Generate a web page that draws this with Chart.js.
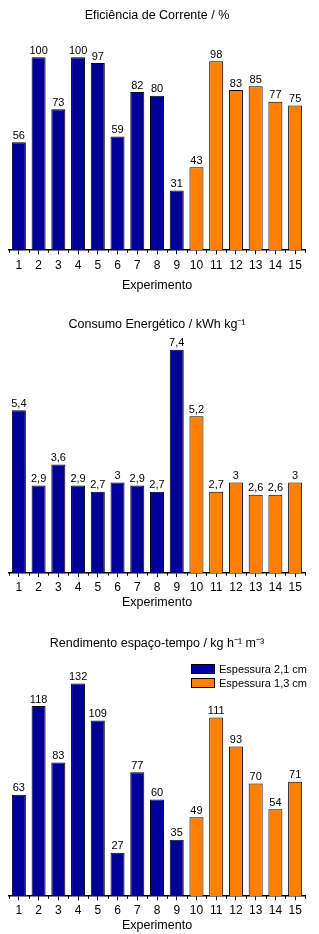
<!DOCTYPE html>
<html>
<head>
<meta charset="utf-8">
<script src="https://cdn.jsdelivr.net/npm/chart.js@4/dist/chart.umd.min.js"></script>
<style>
  body { margin: 0; background: #fff; width: 319px; height: 934px; position: relative; overflow: hidden; }
  .box { position: absolute; left: 0; width: 319px; }
</style>
</head>
<body>
<div class="box" style="top:0;height:300px"><canvas id="chartEficiencia"></canvas></div>
<div class="box" style="top:300px;height:320px"><canvas id="chartConsumo"></canvas></div>
<div class="box" style="top:620px;height:314px"><canvas id="chartRendimento"></canvas></div>
<script>
const experimentos = ['1', '2', '3', '4', '5', '6', '7', '8', '9', '10', '11', '12', '13', '14', '15'];

// experimentos 1-9: espessura 2,1 cm ; 10-15: espessura 1,3 cm
const eficiencia21 = [56, 100, 73, 100, 97, 59, 82, 80, 31];
const eficiencia13 = [43, 98, 83, 85, 77, 75];

const consumo21 = [5.4, 2.9, 3.6, 2.9, 2.7, 3, 2.9, 2.7, 7.4];
const consumo13 = [5.2, 2.7, 3, 2.6, 2.6, 3];

const rendimento21 = [63, 118, 83, 132, 109, 27, 77, 60, 35];
const rendimento13 = [49, 111, 93, 70, 54, 71];

const serieNomes = ['Espessura 2,1 cm', 'Espessura 1,3 cm'];
const corAzul = '#000099';
const corLaranja = '#ff8000';
const fonte = '"Liberation Sans", Arial, sans-serif';

// value labels above each bar
const valueLabels = {
  id: 'valueLabels',
  afterDatasetsDraw(chart) {
    const ctx = chart.ctx;
    ctx.save();
    ctx.font = '11px ' + fonte;
    ctx.fillStyle = '#000';
    ctx.textAlign = 'center';
    ctx.textBaseline = 'bottom';
    chart.data.datasets.forEach((ds, i) => {
      chart.getDatasetMeta(i).data.forEach((bar, j) => {
        const v = ds.data[j];
        if (v == null) return;
        ctx.fillText(String(v).replace('.', ','), bar.x, bar.y - 1);
      });
    });
    ctx.restore();
  }
};

// small ticks between categories
const minorTicks = {
  id: 'minorTicks',
  afterDraw(chart) {
    const x = chart.scales.x;
    const half = (x.getPixelForValue(1) - x.getPixelForValue(0)) / 2;
    const ctx = chart.ctx;
    ctx.save();
    ctx.strokeStyle = '#000';
    ctx.lineWidth = 1;
    ctx.beginPath();
    for (let i = 0; i <= experimentos.length; i++) {
      const px = Math.round(x.getPixelForValue(0) - half + i * 2 * half) + 0.5;
      ctx.moveTo(px, x.top);
      ctx.lineTo(px, x.top + 2.5);
    }
    ctx.stroke();
    ctx.restore();
  }
};

// legend drawn inside the plot area, top right
const innerLegend = {
  id: 'innerLegend',
  afterDraw(chart, args, opts) {
    if (!opts.show) return;
    const ctx = chart.ctx;
    ctx.save();
    ctx.font = '11px ' + fonte;
    ctx.textBaseline = 'middle';
    chart.data.datasets.forEach((ds, i) => {
      const y = opts.top + i * 14;
      ctx.fillStyle = ds.backgroundColor;
      ctx.fillRect(opts.left, y, 24, 10);
      ctx.strokeStyle = '#000';
      ctx.lineWidth = 1;
      ctx.strokeRect(opts.left + 0.5, y + 0.5, 23, 9);
      ctx.fillStyle = '#000';
      ctx.fillText(ds.label, opts.left + 28, y + 5.5);
    });
    ctx.restore();
  }
};

function fazerGrafico(id, titulo, serie21, serie13, yMax, pad, legenda) {
  const vazio21 = Array(serie13.length).fill(null);
  const vazio13 = Array(serie21.length).fill(null);
  return new Chart(document.getElementById(id), {
    type: 'bar',
    data: {
      labels: experimentos,
      datasets: [
        {
          label: serieNomes[0],
          data: serie21.concat(vazio21),
          backgroundColor: corAzul,
          borderColor: '#000',
          borderWidth: 1
        },
        {
          label: serieNomes[1],
          data: vazio13.concat(serie13),
          backgroundColor: corLaranja,
          borderColor: '#000',
          borderWidth: 1
        }
      ]
    },
    options: {
      responsive: true,
      maintainAspectRatio: false,
      animation: false,
      layout: { padding: { left: 9, right: 14, top: 0, bottom: pad.bottom } },
      datasets: { bar: { grouped: false, barPercentage: 0.71, categoryPercentage: 1 } },
      plugins: {
        legend: { display: false },
        tooltip: { enabled: false },
        title: {
          display: true,
          text: titulo,
          color: '#000',
          font: { family: fonte, size: 12.5, weight: 'normal' },
          padding: { top: pad.top, bottom: pad.title }
        },
        innerLegend: legenda || { show: false }
      },
      scales: {
        x: {
          grid: { display: true, drawOnChartArea: false, offset: false, tickLength: 4, color: '#000' },
          border: { display: true, color: '#000', width: 1.5 },
          ticks: { color: '#000', padding: pad.ticks, font: { family: fonte, size: 12 } },
          title: {
            display: true,
            text: 'Experimento',
            color: '#000',
            font: { family: fonte, size: 12.5, lineHeight: 1 },
            padding: { top: pad.xTitle, bottom: 0 }
          }
        },
        y: { display: false, min: 0, max: yMax }
      }
    },
    plugins: [valueLabels, minorTicks, innerLegend]
  });
}

fazerGrafico('chartEficiencia', 'Eficiência de Corrente / %', eficiencia21, eficiencia13, 104.5,
  { top: 8, title: 25.6, bottom: 7.9, ticks: 4.5, xTitle: 2 });
fazerGrafico('chartConsumo', 'Consumo Energético / kWh kg⁻¹', consumo21, consumo13, 7.75,
  { top: 16.8, title: 7.5, bottom: 11, ticks: 3.5, xTitle: -2 });
fazerGrafico('chartRendimento', 'Rendimento espaço-tempo / kg h⁻¹ m⁻³', rendimento21, rendimento13, 146,
  { top: 15.8, title: 10.2, bottom: 1.9, ticks: 3.5, xTitle: -2 },
  { show: true, left: 191, top: 44 });
</script>
</body>
</html>
